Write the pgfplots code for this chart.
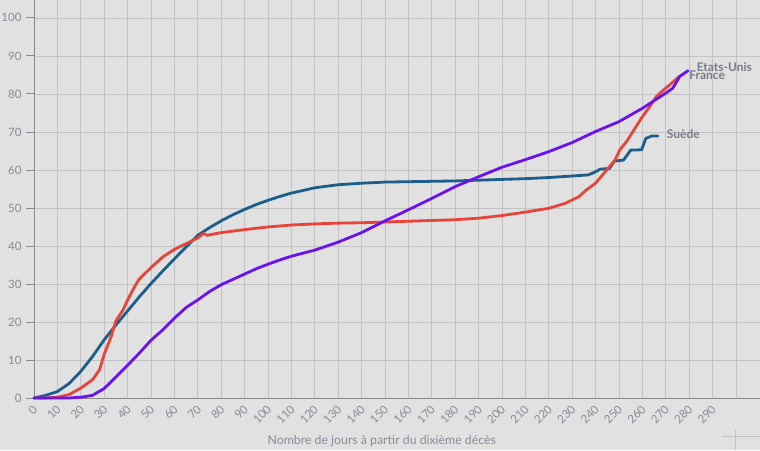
\documentclass[border=0pt]{standalone}
\usepackage{pgfplots}
\pgfplotsset{compat=1.18}
\usepackage{fontspec}
\setmainfont{Lato}
\definecolor{bgc}{HTML}{E1E1E1}
\definecolor{gridc}{HTML}{C2C2C2}
\definecolor{axc}{HTML}{8A8A8A}
\definecolor{txtc}{HTML}{8A8A9A}
\definecolor{lblc}{HTML}{7A7A88}
\definecolor{swe}{HTML}{1B5E8C}
\definecolor{fra}{HTML}{E8443A}
\definecolor{usa}{HTML}{6A11F5}
\begin{document}
\begin{tikzpicture}
\useasboundingbox (-34pt,-52pt) rectangle (726pt,398pt);
\fill[bgc] (-34pt,-52pt) rectangle (726pt,398pt);
\draw[gridc, line width=0.8pt] (701pt,-32pt) -- (701pt,-52pt);
\draw[gridc, line width=0.8pt] (688pt,-38pt) -- (726pt,-38pt);
\begin{axis}[
  at={(0,0)}, anchor=south west,
  scale only axis, width=726pt, height=398pt,
  xmin=0, xmax=310.3, ymin=0, ymax=104.7,
  axis lines=left, axis line style={axc, line width=0.8pt, -},
  xtick={0,10,...,290}, ytick={0,10,...,100},
  extra x ticks={300}, extra x tick labels={},
  grid=major, grid style={gridc, line width=0.7pt},
  x tick style={draw=none}, y tick style={axc, line width=0.8pt},
  tick align=outside, major tick length=8pt,
  ticklabel style={font=\fontsize{11.5}{13}\selectfont, text=txtc},
  /pgf/number format/assume math mode=true,
  xticklabel style={rotate=45, anchor=east, xshift=1pt, yshift=-2pt, inner sep=1pt},
  yticklabel style={xshift=-1pt},
  xlabel={Nombre de jours à partir du dixième décès},
  xlabel style={font=\fontsize{12.3}{14}\selectfont, text=txtc, at={(axis description cs:0.479,0)}, anchor=south, yshift=-52pt},
  clip=false,
  every axis plot/.append style={line width=2.8pt, line join=round, line cap=round},
]
\addplot[swe] coordinates {
(0,0) (5,0.7) (10,1.7) (15,3.8) (20,7.0) (25,10.9) (30,15.3) (35,19.2) (40,22.9) (45,26.6) (50,30.1) (55,33.4) (60,36.6) (65,39.7) (70,42.8) (75,44.8) (80,46.6) (85,48.2) (90,49.6) (95,50.9) (100,52.0) (105,53.0) (110,53.9) (115,54.6) (120,55.3) (130,56.1) (140,56.5) (150,56.8) (160,56.9) (170,57.0) (180,57.1) (190,57.3) (200,57.5) (210,57.7) (220,58.0) (230,58.4) (237,58.7) (240,59.5) (242,60.2) (246,60.4) (248,62.3) (252,62.6) (255,65.2) (259.7,65.3) (261.5,68.3) (264,68.9) (266.7,68.9)
};
\addplot[fra] coordinates {
(0,0) (5,0) (10,0.2) (15,0.9) (20,2.6) (25,4.8) (28,7.4) (30,11.5) (33,16.2) (35,20.3) (38,23.1) (40,25.8) (43,29.3) (45,31.3) (50,34.3) (55,37.1) (60,39.1) (65,40.6) (70,42.1) (72.5,43.3) (74,42.8) (80,43.5) (90,44.3) (100,45.0) (110,45.5) (120,45.8) (130,46.0) (140,46.1) (150,46.3) (160,46.5) (170,46.7) (180,46.9) (190,47.3) (200,48.0) (210,48.9) (220,49.9) (227,51.2) (233,53.0) (236,54.7) (240,56.5) (244.8,60.0) (248.3,62.6) (250.4,65.3) (253.3,67.5) (256,70.1) (259.6,73.6) (263.2,76.7) (266,79.3) (269,81.0) (272.5,82.8) (276,84.7)
};
\addplot[usa] coordinates {
(0,0) (10,0) (15,0) (20,0.2) (25,0.7) (30,2.5) (35,5.5) (40,8.6) (45,11.8) (50,15.2) (55,17.9) (60,21.0) (65,23.8) (70,25.8) (75,28.0) (80,29.8) (85,31.2) (90,32.6) (95,34.0) (100,35.2) (105,36.3) (110,37.3) (115,38.1) (120,38.9) (130,41.0) (140,43.5) (150,46.6) (160,49.5) (170,52.5) (180,55.6) (190,58.2) (200,60.7) (210,62.7) (220,64.8) (230,67.2) (240,70.1) (250,72.7) (260,76.2) (265,78.2) (270,80.2) (273,81.5) (276,84.6) (279.5,86.1)
};
\node[anchor=west, font=\bfseries\fontsize{12}{14}\selectfont, text=lblc, inner sep=0pt] at (axis cs:283.2,87.0) {Etats-Unis};
\node[anchor=west, font=\bfseries\fontsize{12}{14}\selectfont, text=lblc, inner sep=0pt] at (axis cs:280,85.0) {France};
\node[anchor=west, font=\bfseries\fontsize{12}{14}\selectfont, text=lblc, inner sep=0pt] at (axis cs:270.4,69.5) {Suède};
\end{axis}
\end{tikzpicture}
\end{document}
